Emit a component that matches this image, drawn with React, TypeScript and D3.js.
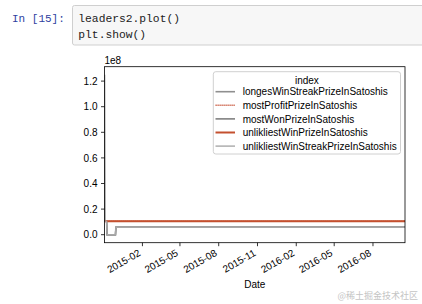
import React from "react";
import * as d3 from "d3";

const dates = ["2014-11-03", "2014-11-04", "2014-11-08", "2014-11-09", "2014-11-29", "2014-11-30", "2016-10-16"];
const longesWinStreak = [125e6, 10.6e6, 10.6e6, 0, 0, 5.8e6, 5.8e6];
const mostProfit = [10.6e6, 10.6e6, 10.6e6, 10.6e6, 10.6e6, 10.6e6, 10.6e6];
const mostWon = [10.6e6, 10.6e6, 10.6e6, 0, 0, 5.8e6, 5.8e6];
const unlikliestWin = [10.6e6, 10.6e6, 10.6e6, 10.6e6, 10.6e6, 10.6e6, 10.6e6];
const unlikliestWinStreak = [10.6e6, 10.6e6, 10.6e6, 0, 0, 5.8e6, 5.8e6];

const seriesNames = [
  "longesWinStreakPrizeInSatoshis",
  "mostProfitPrizeInSatoshis",
  "mostWonPrizeInSatoshis",
  "unlikliestWinPrizeInSatoshis",
  "unlikliestWinStreakPrizeInSatoshis",
];
const seriesValues = [longesWinStreak, mostProfit, mostWon, unlikliestWin, unlikliestWinStreak];
const seriesColors = ["#8f8f8f", "#c8553a", "#6e6e6e", "#c4502f", "#a8a8a8"];
const seriesDash = [null, "1.2 0.8", null, null, null];
const seriesWidth = [1.6, 1.6, 1.4, 2, 1.4];

const xTickLabels = ["2015-02", "2015-05", "2015-08", "2015-11", "2016-02", "2016-05", "2016-08"];
const yTicks = [0, 0.2e8, 0.4e8, 0.6e8, 0.8e8, 1.0e8, 1.2e8];

const FONT = "'Liberation Sans', Arial, sans-serif";

export default function App() {
  const parse = d3.utcParse("%Y-%m-%d");
  const parseM = d3.utcParse("%Y-%m");
  const xs = dates.map((d) => parse(d) as Date);
  const L = 104.5, R = 405, T = 66.7, B = 242.7;
  const x = d3.scaleUtc().domain(d3.extent(xs) as [Date, Date]).range([L, R]);
  const all = seriesValues.flat();
  const mn = d3.min(all) as number, mx = d3.max(all) as number;
  const pad = (mx - mn) * 0.05;
  const y = d3.scaleLinear().domain([mn - pad, mx + pad]).range([B, T]);
  const line = d3
    .line<number>()
    .x((_, i) => x(xs[i]))
    .y((v) => y(v));

  const legX = 213.3, legY = 71.7, legW = 187.2, legH = 82.3;
  const rowY = [91.7, 105.3, 118.9, 132.5, 146.1];

  return (
    <svg
      width={422}
      height={304}
      style={{ position: "absolute", left: 0, top: 0, background: "#fff" }}
      fontFamily={FONT}
    >
      {/* notebook cell */}
      <text x={12} y={22} fontFamily="'Liberation Mono', 'DejaVu Sans Mono', monospace" fontSize={11} fill="#303F9F">
        In [15]:
      </text>
      <rect x={72.5} y={5.5} width={360} height={39.5} fill="#f7f7f7" stroke="#cfcfcf" strokeWidth={1} rx={2} />
      <text x={78.3} y={22} fontFamily="'Liberation Mono', 'DejaVu Sans Mono', monospace" fontSize={11.3} fill="#222">
        leaders2.plot()
      </text>
      <text x={78.3} y={37.5} fontFamily="'Liberation Mono', 'DejaVu Sans Mono', monospace" fontSize={11.3} fill="#222">
        plt.show()
      </text>

      <defs>
        <clipPath id="plotclip">
          <rect x={L} y={T} width={R - L} height={B - T} />
        </clipPath>
      </defs>

      {/* lines */}
      <g clipPath="url(#plotclip)">
        {seriesValues.map((vals, i) => (
          <path
            key={i}
            d={line(vals) || ""}
            fill="none"
            stroke={seriesColors[i]}
            strokeWidth={seriesWidth[i]}
            strokeDasharray={seriesDash[i] || undefined}
          />
        ))}
      </g>

      {/* spines */}
      <rect x={L} y={T} width={R - L} height={B - T} fill="none" stroke="#000" strokeWidth={0.8} />

      {/* y axis */}
      {yTicks.map((t) => (
        <g key={t}>
          <line x1={L - 3.5} x2={L} y1={y(t)} y2={y(t)} stroke="#000" strokeWidth={0.8} />
          <text x={L - 7} y={y(t) + 3.6} textAnchor="end" fontSize={10} fill="#000">
            {(t / 1e8).toFixed(1)}
          </text>
        </g>
      ))}
      <text x={L} y={63.5} fontSize={10} fill="#000">
        1e8
      </text>

      {/* x axis */}
      {xTickLabels.map((lab) => {
        const px = x(parseM(lab) as Date);
        return (
          <g key={lab}>
            <line x1={px} x2={px} y1={B} y2={B + 3.5} stroke="#000" strokeWidth={0.8} />
            <text
              transform={`translate(${px},${256.7}) rotate(-30)`}
              dy={-2}
              textAnchor="end"
              fontSize={10}
              fill="#000"
            >
              {lab}
            </text>
          </g>
        );
      })}
      <text x={(L + R) / 2} y={288} textAnchor="middle" fontSize={10} fill="#000">
        Date
      </text>

      {/* legend */}
      <rect x={legX} y={legY} width={legW} height={legH} rx={2.5} fill="#fff" fillOpacity={0.8} stroke="#d0d0d0" strokeWidth={1} />
      <text x={legX + legW / 2} y={83.5} textAnchor="middle" fontSize={10} fill="#000">
        index
      </text>
      {seriesNames.map((name, i) => (
        <g key={name}>
          <line
            x1={215.5}
            x2={235}
            y1={rowY[i]}
            y2={rowY[i]}
            stroke={seriesColors[i]}
            strokeWidth={seriesWidth[i]}
            strokeDasharray={seriesDash[i] || undefined}
          />
          <text x={242.7} y={rowY[i] + 3.6} fontSize={10} fill="#000">
            {name}
          </text>
        </g>
      ))}

      {/* watermark */}
      <text x={418} y={299} textAnchor="end" fontSize={9} fill="#c4c4c4" fontFamily="'Noto Sans CJK SC', sans-serif">
        @稀土掘金技术社区
      </text>
    </svg>
  );
}
